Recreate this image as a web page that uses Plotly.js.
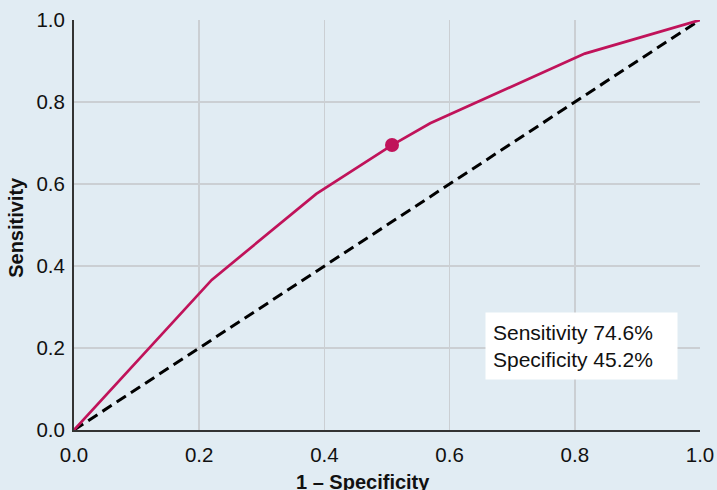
<!DOCTYPE html>
<html>
<head>
<meta charset="utf-8">
<script src="https://cdn.plot.ly/plotly-3.0.1.min.js"></script>
<style>html,body{margin:0;padding:0;background:#e1ecf3;}#chart{width:717px;height:490px;}</style>
</head>
<body>
<div id="chart"></div>
<script>
// ROC curve (1 - specificity, sensitivity)
const rocX = [0, 0.220, 0.387, 0.508, 0.569, 0.816, 1.0];
const rocY = [0, 0.366, 0.576, 0.695, 0.748, 0.918, 1.0];
// Chosen cut-off point
const cutX = [0.508];
const cutY = [0.695];
// Reference diagonal
const diagX = [0, 1];
const diagY = [0, 1];
const tickVals = [0, 0.2, 0.4, 0.6, 0.8, 1.0];
const tickText = ["0.0", "0.2", "0.4", "0.6", "0.8", "1.0"];
const statsText = ["Sensitivity 74.6%", "Specificity 45.2%"];

const FONT = "Liberation Sans, Arial, Helvetica, sans-serif";
const data = [
  {x: diagX, y: diagY, mode: "lines", line: {color: "#000000", width: 3, dash: "11px,6px"}, hoverinfo: "skip"},
  {x: rocX, y: rocY, mode: "lines", line: {color: "#c0135a", width: 2.7}},
  {x: cutX, y: cutY, mode: "markers", marker: {color: "#c0135a", size: 14}}
];
const axisCommon = {
  range: [0, 1], tickvals: tickVals, ticktext: tickText,
  showgrid: true, gridcolor: "#cbcfd3", gridwidth: 1.5,
  zeroline: false, showline: true, linecolor: "#333333", linewidth: 2,
  ticks: "", tickfont: {family: FONT, size: 20.5, color: "#111111"},
  fixedrange: true
};
const layout = {
  width: 717, height: 490,
  margin: {l: 74, r: 17, t: 20, b: 60},
  paper_bgcolor: "#e1ecf3", plot_bgcolor: "#e1ecf3",
  showlegend: false,
  xaxis: Object.assign({}, axisCommon, {ticklabelstandoff: 5}),
  yaxis: Object.assign({}, axisCommon, {ticklabelstandoff: 3}),
  annotations: [
    {text: "<b>1 – Specificity</b>", xref: "paper", yref: "paper", x: 0.462, y: -0.128, xanchor: "center", yanchor: "middle", showarrow: false, font: {family: FONT, size: 20, color: "#111111"}},
    {text: "<b>Sensitivity</b>", xref: "paper", yref: "paper", x: -0.093, y: 0.495, xanchor: "center", yanchor: "middle", textangle: -90, showarrow: false, font: {family: FONT, size: 20, color: "#111111"}},
    {text: statsText.join("<br>"), xref: "x", yref: "y", x: 0.656, y: 0.205, xanchor: "left", yanchor: "middle", align: "left", showarrow: false, bgcolor: "#ffffff", borderpad: 7, width: 177, height: 52, font: {family: FONT, size: 21, color: "#111111"}}
  ]
};
Plotly.newPlot("chart", data, layout, {displayModeBar: false, staticPlot: true});
</script>
</body>
</html>
